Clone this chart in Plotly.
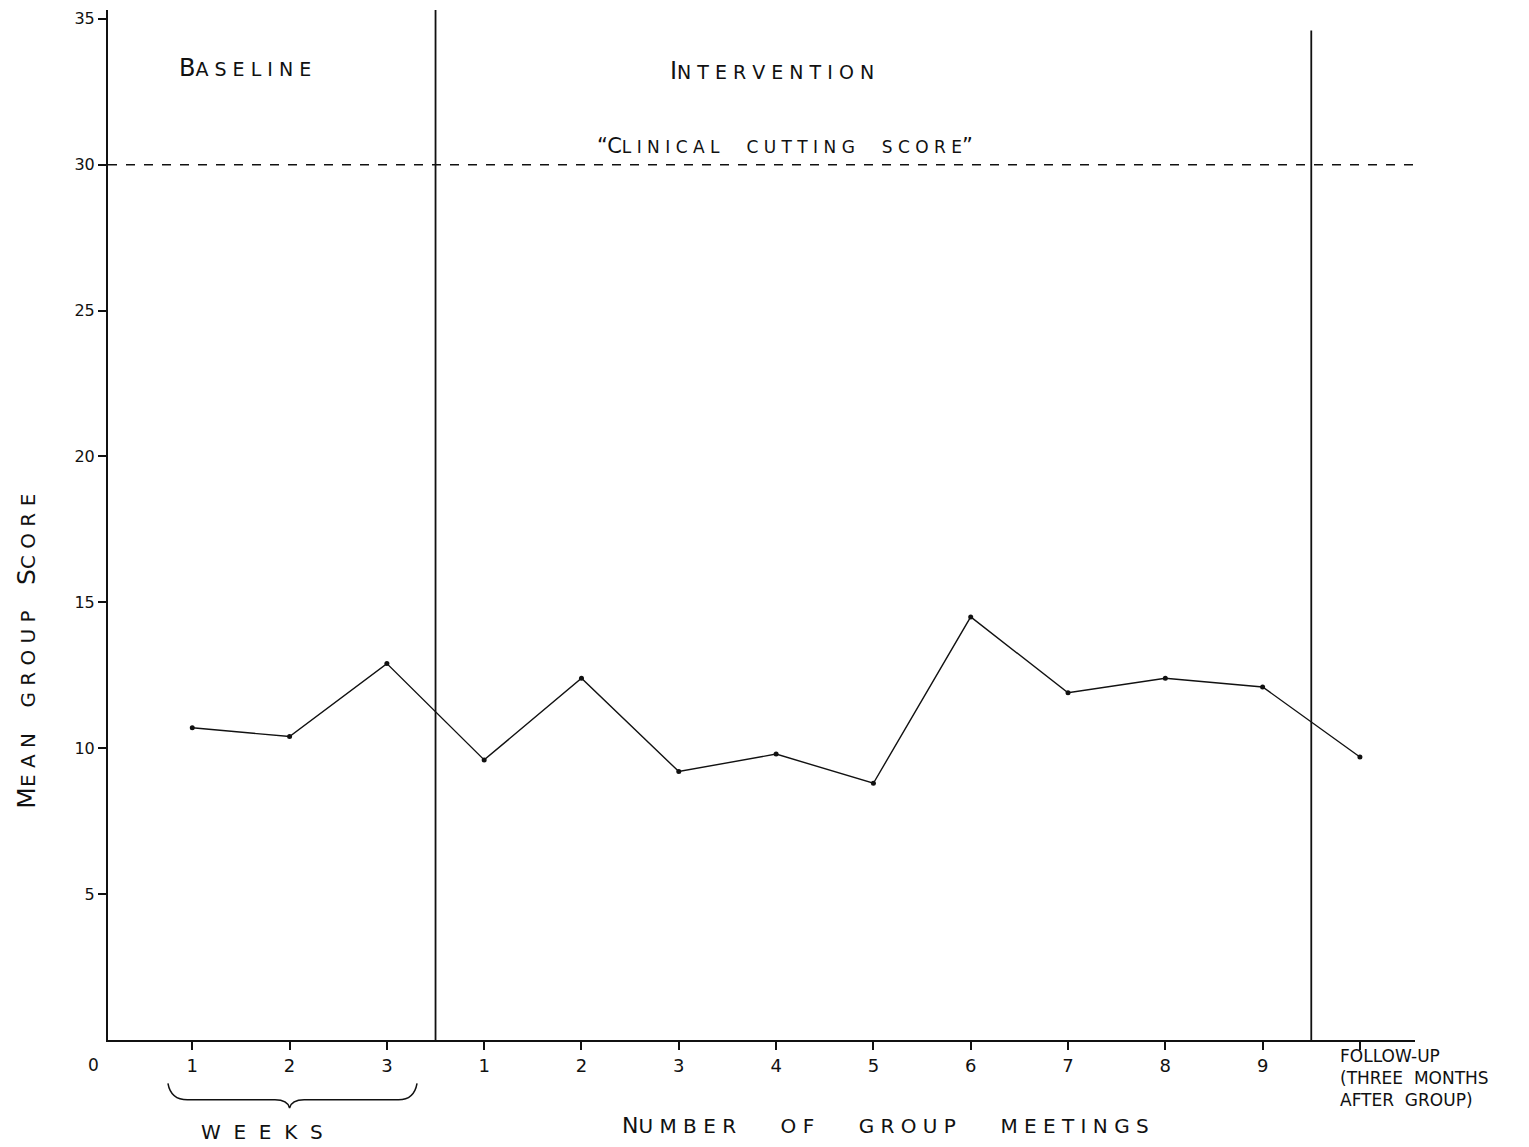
import plotly.graph_objects as go

# ---- data ----
x_pos = [1, 2, 3, 4, 5, 6, 7, 8, 9, 10, 11, 12, 13]
tick_labels = ["1", "2", "3", "1", "2", "3", "4", "5", "6", "7", "8", "9", ""]
scores = [10.7, 10.4, 12.9, 9.6, 12.4, 9.2, 9.8, 8.8, 14.5, 11.9, 12.4, 12.1, 9.7]
y_ticks = [5, 10, 15, 20, 25, 30, 35]
cutting_score = 30
phase_breaks = [3.5, 12.5]

FONT = "DejaVu Sans"
INK = "#111111"
SP = "\u00a0"

fig = go.Figure()
fig.add_trace(go.Scatter(
    x=x_pos, y=scores, mode="lines+markers",
    line=dict(color=INK, width=1.4),
    marker=dict(color=INK, size=5),
    showlegend=False, hoverinfo="skip"))

shapes = []
shapes.append(dict(type="line", xref="paper", yref="y", x0=0, x1=1.005,
                   y0=cutting_score, y1=cutting_score,
                   line=dict(color=INK, width=1.5, dash="dash")))
shapes.append(dict(type="line", xref="x", yref="paper", x0=phase_breaks[0], x1=phase_breaks[0],
                   y0=0, y1=1.0, line=dict(color=INK, width=1.8)))
shapes.append(dict(type="line", xref="x", yref="paper", x0=phase_breaks[1], x1=phase_breaks[1],
                   y0=0, y1=0.98, line=dict(color=INK, width=1.8)))
shapes.append(dict(type="path", xref="x", yref="paper",
                   path=("M 0.75,-0.042 Q 0.78,-0.058 0.95,-0.058 L 1.85,-0.058 "
                         "Q 1.98,-0.058 2.0,-0.066 Q 2.02,-0.058 2.15,-0.058 "
                         "L 3.12,-0.058 Q 3.28,-0.058 3.31,-0.042"),
                   line=dict(color=INK, width=1.5)))

ann = []
def A(text, x, y, xref="x", yref="y", size=17, xanchor="center", yanchor="middle", **kw):
    d = dict(text=text, x=x, y=y, xref=xref, yref=yref, showarrow=False,
             xanchor=xanchor, yanchor=yanchor,
             font=dict(family=FONT, size=size, color=INK))
    d.update(kw)
    ann.append(d)

def spaced(s):
    return SP.join(s)

A("B<span style='font-size:19px'>" + spaced("ASELINE") + "</span>", 1.54, 33.3, size=24)
A("I<span style='font-size:19px'>" + spaced("NTERVENTION") + "</span>", 6.96, 33.2, size=24)
A("\u201cC<span style='font-size:17px'>" + spaced("LINICAL") + SP*5 + spaced("CUTTING") + SP*5
  + spaced("SCORE") + "</span>\u201d", 7.09, 30.15, size=21, yanchor="bottom")
A("M<span style='font-size:20px'>" + spaced("EAN") + SP*4 + spaced("GROUP") + SP*4
  + "</span>S<span style='font-size:20px'>" + spaced("CORE") + "</span>",
  -0.062, 0.378, xref="paper", yref="paper", size=25, textangle=-90)
A("0", -0.011, -0.024, xref="paper", yref="paper", size=17)
A(spaced("WEEKS").replace(SP, SP * 2), 1.72, -0.089, yref="paper", size=20)
A("N<span style='font-size:20px'>" + spaced("UMBER") + SP*7 + spaced("OF") + SP*7
  + spaced("GROUP") + SP*7 + spaced("MEETINGS") + "</span>",
  8.12, -0.083, yref="paper", size=22)
A("FOLLOW-UP<br>(THREE" + SP*2 + "MONTHS<br>AFTER" + SP*2 + "GROUP)", 12.77, -0.004, yref="paper",
  size=17, xanchor="left", yanchor="top", align="left")

fig.update_layout(
    width=1521, height=1139,
    margin=dict(l=100, r=114, t=2, b=107),
    paper_bgcolor="white", plot_bgcolor="white",
    shapes=shapes, annotations=ann,
    font=dict(family=FONT, color=INK),
    xaxis=dict(range=[0.134, 13.566], tickmode="array", tickvals=x_pos, ticktext=tick_labels,
               showgrid=False, zeroline=False, showline=True, linecolor=INK, linewidth=2,
               ticks="outside", ticklen=8, tickwidth=1.5, tickcolor=INK,
               tickfont=dict(family=FONT, size=18, color=INK)),
    yaxis=dict(range=[0, 35.3], tickmode="array", tickvals=y_ticks,
               showgrid=False, zeroline=False, showline=True, linecolor=INK, linewidth=2,
               ticks="outside", ticklen=8, tickwidth=1.5, tickcolor=INK,
               tickfont=dict(family=FONT, size=16, color=INK)),
)

fig.write_html("out.html")
